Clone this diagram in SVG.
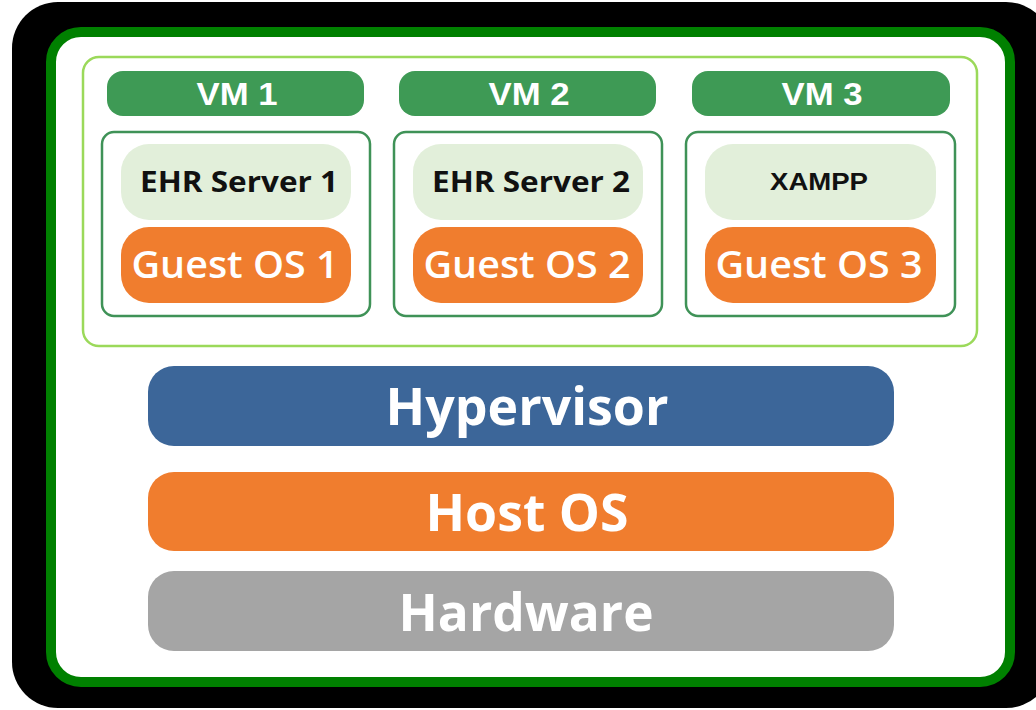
<svg xmlns="http://www.w3.org/2000/svg" width="1036" height="710" viewBox="0 0 1036 710">
<style>
.vmh{fill:#3e9a55}
.vmh-t{font-family:"Liberation Sans",Arial,sans-serif;font-weight:bold;font-size:32px;fill:#fff;text-anchor:middle}
.vmbox{fill:#fff;stroke:#3f9257;stroke-width:2.5}
.app{fill:#e2efda}
.app-t{font-family:"Open Sans","Noto Sans",sans-serif;font-weight:bold;font-size:28px;fill:#111;text-anchor:middle}
.os{fill:#f07d2e}
.os-t{font-family:"Open Sans","Noto Sans",sans-serif;font-weight:600;font-size:37px;fill:#fff;text-anchor:middle}
.layer-t{font-family:"Open Sans","Noto Sans",sans-serif;font-weight:bold;font-size:52px;fill:#fff;text-anchor:middle}
</style>
<rect width="1036" height="710" fill="#fff"/>
<rect id="frame" x="12" y="2" width="1040" height="706" rx="46" fill="#000"/>
<rect x="51" y="32" width="959" height="650" rx="30" fill="#fff" stroke="#008000" stroke-width="10"/>
<rect id="vm-area" x="83" y="57" width="894" height="289" rx="16" fill="none" stroke="#9bd95a" stroke-width="2.5"/>
<g id="vm1">
<rect class="vmh" x="107" y="71" width="257" height="45" rx="16"/>
<text class="vmh-t" x="237" y="105" textLength="81" lengthAdjust="spacingAndGlyphs">VM 1</text>
<rect class="vmbox" x="102" y="132" width="268" height="184" rx="12"/>
<rect class="app" x="121" y="144" width="230" height="76" rx="28"/>
<text class="app-t" x="239" y="192" textLength="198" lengthAdjust="spacingAndGlyphs">EHR Server 1</text>
<rect class="os" x="121" y="227" width="230" height="76" rx="28"/>
<text class="os-t" x="235" y="278" textLength="207" lengthAdjust="spacingAndGlyphs">Guest OS 1</text>
</g>
<g id="vm2">
<rect class="vmh" x="399" y="71" width="257" height="45" rx="16"/>
<text class="vmh-t" x="529" y="105" textLength="81" lengthAdjust="spacingAndGlyphs">VM 2</text>
<rect class="vmbox" x="394" y="132" width="268" height="184" rx="12"/>
<rect class="app" x="413" y="144" width="230" height="76" rx="28"/>
<text class="app-t" x="531" y="192" textLength="198" lengthAdjust="spacingAndGlyphs">EHR Server 2</text>
<rect class="os" x="413" y="227" width="230" height="76" rx="28"/>
<text class="os-t" x="527" y="278" textLength="207" lengthAdjust="spacingAndGlyphs">Guest OS 2</text>
</g>
<g id="vm3">
<rect class="vmh" x="692" y="71" width="258" height="45" rx="16"/>
<text class="vmh-t" x="822" y="105" textLength="81" lengthAdjust="spacingAndGlyphs">VM 3</text>
<rect class="vmbox" x="686" y="132" width="269" height="184" rx="12"/>
<rect class="app" x="705" y="144" width="231" height="76" rx="28"/>
<text class="app-t" x="819" y="190" textLength="98" lengthAdjust="spacingAndGlyphs" style="font-family:'Liberation Sans',Arial,sans-serif;font-size:23px">XAMPP</text>
<rect class="os" x="705" y="227" width="231" height="76" rx="28"/>
<text class="os-t" x="819" y="278" textLength="207" lengthAdjust="spacingAndGlyphs">Guest OS 3</text>
</g>
<g id="hypervisor">
<rect x="148" y="366" width="746" height="80" rx="26" fill="#3c6699"/>
<text class="layer-t" x="527" y="425" textLength="283" lengthAdjust="spacingAndGlyphs">Hypervisor</text>
</g>
<g id="hostos">
<rect x="148" y="472" width="746" height="79" rx="26" fill="#f07d2e"/>
<text class="layer-t" x="527" y="531" textLength="203" lengthAdjust="spacingAndGlyphs">Host OS</text>
</g>
<g id="hardware">
<rect x="148" y="571" width="746" height="80" rx="26" fill="#a5a5a5"/>
<text class="layer-t" x="526" y="631" textLength="255" lengthAdjust="spacingAndGlyphs">Hardware</text>
</g>
<g id="connectors"/>
</svg>
